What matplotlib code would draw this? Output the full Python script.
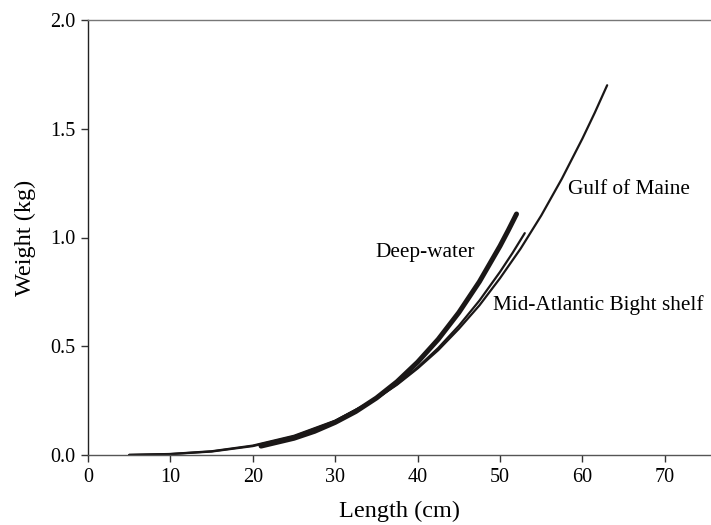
import matplotlib
matplotlib.use("Agg")
import matplotlib.pyplot as plt

plt.rcParams['font.family'] = ['Liberation Serif', 'DejaVu Serif']

# weight-length curves (length in cm, weight in kg)
gom_len = [5, 10, 15, 20, 25, 30, 35, 37.5, 40, 42.5, 45, 47.5, 50, 52.5,
           55, 57.5, 60, 61.5, 63]
gom_wt = [0.0005, 0.0047, 0.0172, 0.0433, 0.0884, 0.158, 0.259, 0.323, 0.398,
          0.482, 0.580, 0.688, 0.813, 0.949, 1.101, 1.270, 1.455, 1.574, 1.700]

mab_len = [5, 10, 15, 20, 25, 30, 35, 37.5, 40, 42.5, 45, 47.5, 50, 51.5, 53]
mab_wt = [0.0004, 0.0042, 0.0159, 0.0409, 0.0854, 0.156, 0.259, 0.326, 0.403,
          0.492, 0.594, 0.710, 0.842, 0.928, 1.020]

deep_len = [21, 25, 27.5, 30, 32.5, 35, 37.5, 40, 42.5, 45, 47.5, 50, 51, 52]
deep_wt = [0.041, 0.077, 0.109, 0.150, 0.200, 0.262, 0.337, 0.427, 0.532,
           0.655, 0.797, 0.961, 1.033, 1.108]

xticks = [0, 10, 20, 30, 40, 50, 60, 70]
yticks = [0.0, 0.5, 1.0, 1.5, 2.0]

fig = plt.figure(figsize=(7.11, 5.25), dpi=100)
ax = fig.add_axes([88/711, 70/525, 623/711, 435/525])

ink = '#1a1717'
ax.plot(gom_len, gom_wt, color=ink, lw=1.6, solid_capstyle='round')
ax.plot(mab_len, mab_wt, color=ink, lw=1.6, solid_capstyle='round')
ax.plot(deep_len, deep_wt, color=ink, lw=3.6, solid_capstyle='round')

ax.text(34.9, 0.933, 'Deep-water', fontsize=15.3, va='center', ha='left')
ax.text(58.3, 1.219, 'Gulf of Maine', fontsize=15.3, va='center', ha='left')
ax.text(49.1, 0.689, 'Mid-Atlantic Bight shelf', fontsize=15.3, va='center', ha='left')

ax.set_xlim(0, 75.6)
ax.set_ylim(0, 2.0)
ax.set_xticks(xticks)
ax.set_yticks(yticks)
ax.set_yticklabels([f'{v:.1f}' for v in yticks])
ax.tick_params(direction='out', length=5, width=1, colors='#333333',
               labelsize=14.5, labelcolor='black', pad=4)

ax.spines['right'].set_visible(False)
ax.spines['top'].set_color('#777777')
ax.spines['bottom'].set_color('#555555')
ax.spines['left'].set_color('#222222')
for s in ax.spines.values():
    s.set_linewidth(1)

ax.set_xlabel('Length (cm)', fontsize=17.5, labelpad=10)
ax.set_ylabel('Weight (kg)', fontsize=17.5, labelpad=10)

fig.savefig('out.png', dpi=100)
